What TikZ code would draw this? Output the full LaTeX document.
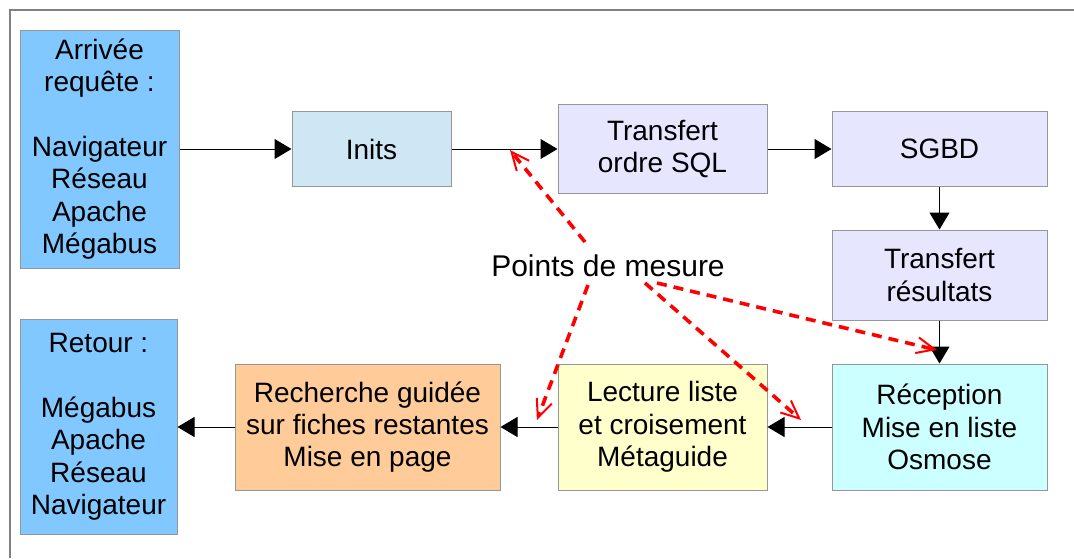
\documentclass[tikz,border=0pt]{standalone}
\usepackage{fontspec}
\setmainfont{Liberation Sans}
\usetikzlibrary{arrows.meta}

\definecolor{skyblue}{RGB}{128,200,255}
\definecolor{paleblue}{RGB}{207,231,245}
\definecolor{lavender}{RGB}{230,230,255}
\definecolor{palecyan}{RGB}{204,255,255}
\definecolor{paleyellow}{RGB}{255,255,204}
\definecolor{paleorange}{RGB}{255,204,153}
\definecolor{edgegray}{RGB}{150,150,150}

\tikzset{
  box/.style={draw=edgegray, line width=1pt, rectangle, align=center, inner sep=2pt,
    font=\fontsize{28}{32.3}\selectfont},
  flow/.style={-{Triangle[length=17pt,width=20pt]}, line width=1pt, black},
  mesure/.style={-{Straight Barb[length=18pt,width=16pt,line width=2pt]}, red,
    line width=3.6pt, dash pattern=on 10pt off 7pt}
}

\begin{document}
\begin{tikzpicture}[x=1pt, y=-1pt]
\useasboundingbox (0,0) rectangle (1074,558);
% frame
\draw[gray, line width=1.2pt] (1074,10) -- (10,10) -- (10,558);

% request path
\node[box, fill=skyblue, minimum width=159pt, minimum height=238pt] (arrivee) at (99.5,149) {Arrivée\\requête :\\ \\Navigateur\\Réseau\\Apache\\Mégabus};
\node[box, fill=paleblue, minimum width=159pt, minimum height=75pt] (inits) at (371.5,149) {Inits};
\node[box, fill=lavender, minimum width=209pt, minimum height=89pt] (sql) at (662.5,149) {Transfert\\ordre SQL};
\node[box, fill=lavender, minimum width=215pt, minimum height=75pt] (sgbd) at (939.5,149) {SGBD};
\node[box, fill=lavender, minimum width=215pt, minimum height=90pt] (res) at (939.5,275) {Transfert\\résultats};

% return path
\node[box, fill=palecyan, minimum width=215pt, minimum height=126pt] (recep) at (939.5,427) {Réception\\Mise en liste\\Osmose};
\node[box, fill=paleyellow, minimum width=209pt, minimum height=126pt] (lect) at (662.5,427) {Lecture liste\\et croisement\\Métaguide};
\node[box, fill=paleorange, minimum width=265pt, minimum height=126pt] (rech) at (367.5,427) {Recherche guidée\\sur fiches restantes\\Mise en page};
\node[box, fill=skyblue, minimum width=157pt, minimum height=215pt] (retour) at (98.5,427) {Retour :\\ \\Mégabus\\Apache\\Réseau\\Navigateur};

\draw[flow] (arrivee) -- (inits);
\draw[flow] (inits) -- (sql);
\draw[flow] (sql) -- (sgbd);
\draw[flow] (sgbd) -- (res);
\draw[flow] (res) -- (recep);
\draw[flow] (recep) -- (lect);
\draw[flow] (lect) -- (rech);
\draw[flow] (rech) -- (retour);

% measure points
\node[font=\fontsize{30}{34}\selectfont, inner sep=0pt] (points) at (608,266) {Points de mesure};
\coordinate (s1) at (585,242);
\coordinate (s2) at (588,285);
\coordinate (s3) at (645,283);
\coordinate (s4) at (657,283);
\coordinate (t1) at (510,150);
\coordinate (t2) at (537,420);
\coordinate (t3) at (801,420);
\coordinate (t4) at (937,350);
\draw[mesure] (s1) -- (t1);
\draw[mesure] (s2) -- (t2);
\draw[mesure] (s3) -- (t3);
\draw[mesure] (s4) -- (t4);
\end{tikzpicture}
\end{document}
